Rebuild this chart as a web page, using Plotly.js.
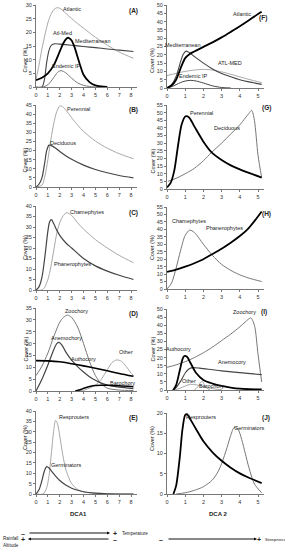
<!DOCTYPE html>
<html><head><meta charset="utf-8">
<script src="https://cdn.plot.ly/plotly-3.0.1.min.js"></script>
<style>html,body{margin:0;padding:0;background:#fff}#chart{width:285px;height:550px}</style>
</head><body><div id="chart"></div>
<script>
// ---- Panel A (DCA1, biogeography) ----
const A_atl_x = [0,0.25,0.5,0.75,1,1.25,1.5,1.75,2,2.5,3,3.5,4,5,6,7,8.2];
const A_atl_y = [2.7,8,14,19,23.5,26.5,28.3,29,28.8,27,25,23.2,21.5,18.2,15.3,12.8,10.5];
const A_am_x = [0,0.5,0.7,0.9,1.1,1.3,1.6,2,3,4,5,6,7,8.2];
const A_am_y = [0,0,2.5,9,13.5,15.3,15.8,15.7,15.3,14.8,14.4,13.9,13.5,13];
const A_med_x = [0,0.5,1,1.5,2,2.3,2.6,2.75,3,3.25,3.5,3.75,4,4.5,5,5.5,6];
const A_med_y = [2.5,3.4,5,8,13,16,17.8,18,17,14.5,11,7.5,4.5,1.8,0.6,0.2,0];
const A_end_x = [0.6,1,1.5,1.8,2.1,2.5,3,3.5,4,4.5,5];
const A_end_y = [0,0.8,3.5,5.3,6,5.2,3.2,1.5,0.6,0.2,0];
// ---- Panel F (DCA2, biogeography) ----
const F_atl_x = [0,0.25,0.5,0.75,1,1.25,1.5,2,2.5,3,3.5,4,4.5,5,5.2];
const F_atl_y = [0,1.5,5,12,18,20.5,22,24.8,27.5,30.5,33.8,37.2,40.8,44.6,46];
const F_med_x = [0,0.25,0.5,0.75,0.9,1.05,1.2,1.5,2,2.5,3,3.5,4,4.5,5.2];
const F_med_y = [0,2,7,16,20.5,22.2,21.5,19,15,11.5,8.8,6.8,5,3.7,2.2];
const F_am_x = [0,0.5,1,1.5,2,2.5,3,3.5,4,4.5,5.2];
const F_am_y = [7.5,8.8,10,10.8,11.2,10.8,9.7,8.3,6.7,5.2,3.2];
const F_end_x = [0,0.25,0.5,0.75,1,1.3,1.6,2,2.5,3,3.5];
const F_end_y = [0,0.8,2,3.3,4.2,4.6,4.2,3,1.3,0.3,0];
// ---- Panel B ----
const B_per_x = [0,0.5,0.75,1,1.25,1.5,1.75,2,2.25,2.5,3,3.5,4,5,6,7,8.2];
const B_per_y = [0,1,6,15,26,35,41.5,44.5,44,42.3,38,34,30.5,25.2,21.3,18.3,15.5];
const B_dec_x = [0,0.25,0.5,0.75,0.9,1.1,1.3,1.6,2,2.5,3,4,5,6,7,8.2];
const B_dec_y = [0,1.5,5,14,20,23,22.7,21.5,19.5,17.2,15.2,12,9.6,7.8,6.3,5];
// ---- Panel G ----
const G_per_x = [0,0.2,0.4,0.6,0.8,1,1.2,1.5,2,2.45,3,3.5,4,4.5,5.2];
const G_per_y = [1,4,12,28,42,47.5,47,41,31,24,19,15.5,12.8,10.5,7.5];
const G_dec_x = [0.05,0.5,1,1.5,2,2.45,3,3.5,4,4.3,4.5,4.65,4.8,5,5.2];
const G_dec_y = [5,7,10,13.5,18.5,24,30,36,42,46.5,49.5,51.5,45,22,7.5];
// ---- Panel C ----
const C_cha_x = [0,0.5,0.75,1,1.25,1.5,1.75,2,2.3,2.6,3,3.5,4,5,6,7,8.2];
const C_cha_y = [0,0,1.5,5,11,19,27,32,35.5,36.8,35.5,32,29,24,20,16.5,13];
const C_pha_x = [0,0.25,0.5,0.75,1,1.15,1.3,1.5,1.75,2,2.5,3,4,5,6,7,8.2];
const C_pha_y = [0,1.5,6,16,28,32.5,33.5,31.5,28.5,26,22.5,20,15,11.5,9,7,5];
// ---- Panel H ----
const H_cha_x = [0,0.25,0.5,0.75,1,1.25,1.5,2,2.5,3,3.5,4,4.5,5.2];
const H_cha_y = [0,4,14,26,36,39.5,38,30,22.5,16.5,12.5,9.5,7.3,5];
const H_pha_x = [0,0.5,1,1.5,2,2.5,3,3.5,4,4.5,5.2];
const H_pha_y = [11.5,13,15,17.3,20,23.5,27,31,35.5,41,52];
// ---- Panel D ----
const D_zoo_x = [0,0.5,1,1.5,2,2.3,2.65,3,3.5,4,4.5,5,5.5,6,7,8.2];
const D_zoo_y = [6.5,10.5,16,23,29,31,32,31,27,20,12.5,6.5,3,1.2,0.4,0.2];
const D_ane_x = [0,0.5,1,1.5,1.75,1.95,2.2,2.5,3,3.5,4,4.5,5,5.5,6,7,8.2];
const D_ane_y = [0,5,11,17.5,20,20.5,19.2,16.5,13,10.3,8,6,4.5,3.3,2.5,1.6,1];
const D_aut_x = [0,1,2,3,4,5,6,7,8.2];
const D_aut_y = [12.8,12.7,12.3,11.5,10.6,9.6,8.5,7.4,6.2];
const D_oth_x = [3.5,4,4.5,5,5.5,6,6.4,6.8,7.2,7.6,8,8.2];
const D_oth_y = [0,0.3,1.2,2.5,5,9,12,13.1,12.5,10.3,7.5,6.5];
const D_bar_x = [3.3,3.7,4.1,4.6,5,5.5,6,7,8.2];
const D_bar_y = [0,0.5,1.3,2,2.3,2.4,2.4,2.2,1.8];
// ---- Panel I ----
const I_zoo_x = [0,0.5,1,1.5,2,2.5,3,3.5,4,4.3,4.6,4.8,5,5.2];
const I_zoo_y = [14,15.5,17.5,20,23,26.5,30.5,34.5,39,42,44.5,40,22,5];
const I_aut_x = [0.35,0.5,0.7,0.85,0.95,1.1,1.3,1.6,2,2.5,3,3.5,4,4.5,5.2];
const I_aut_y = [0,3,12,19,21,20.5,16.5,10.5,6.2,4,2.5,1.5,0.8,0.5,0.3];
const I_ane_x = [0.3,0.5,0.75,1,1.2,1.4,1.8,2.5,3,4,5.2];
const I_ane_y = [0,1.5,5.5,10.5,13,13.8,13.5,12.5,11.8,10.7,9.5];
const I_oth_x = [0.4,0.7,1,1.3,1.6,2,2.5,3];
const I_oth_y = [0,1,2.5,3.5,3.2,2,0.8,0.2];
const I_bar_x = [1.5,1.7,1.85,1.95,2.1,2.35];
const I_bar_y = [0,2,4.8,5.2,2,0];
// ---- Panel E ----
const E_res_x = [0,0.6,0.9,1.1,1.3,1.5,1.65,1.8,2,2.25,2.5,2.75,3,3.5,4,5,6,8.2];
const E_res_y = [0,0,3,9,20,31,35.5,34,28,19,12,8,5,2.2,1,0.3,0.1,0];
const E_ger_x = [0,0.25,0.5,0.7,0.9,1.1,1.3,1.6,2,2.5,3,3.5,4,5,6,8.2];
const E_ger_y = [0,2,6.5,11,13.2,12.5,11,9,6.5,4.3,2.8,1.8,1.1,0.4,0.1,0];
// ---- Panel J ----
const J_res_x = [0.35,0.5,0.7,0.85,1,1.1,1.3,1.6,2,2.5,3,3.5,4,4.5,5.2];
const J_res_y = [0,2,9,16,19.5,19.7,18.3,16,13,10.3,8.2,6.5,5.1,4,2.7];
const J_ger_x = [0.5,1,1.5,2,2.5,2.8,3,3.3,3.5,3.7,3.9,4.1,4.3,4.5,4.8,5.2];
const J_ger_y = [0,0.3,0.9,1.8,3.5,5.5,7.5,11.5,14.5,16.5,16,13.5,10,6.5,2.5,0.3];

const LEFT_TICKS = [0,1,2,3,4,5,6,7,8];
const RIGHT_TICKS = [0,1,2,3,4,5];

const traces = [];
function sfx(n){return n===1?'':String(n);}
function add(n,x,y,color,width){
  traces.push({x:x,y:y,xaxis:'x'+sfx(n),yaxis:'y'+sfx(n),type:'scatter',mode:'lines',
    line:{color:color,width:width,shape:'spline',smoothing:0.8},hoverinfo:'skip'});
}
const LG='#a8a8a8', MG='#777', DG='#444', BK='#000';
// A
add(1,A_atl_x,A_atl_y,LG,1);
add(1,A_am_x,A_am_y,DG,1.1);
add(1,A_end_x,A_end_y,MG,1);
add(1,A_med_x,A_med_y,BK,1.8);
// F
add(2,F_am_x,F_am_y,LG,1);
add(2,F_end_x,F_end_y,DG,1);
add(2,F_med_x,F_med_y,DG,1.1);
add(2,F_atl_x,F_atl_y,BK,1.8);
// B
add(3,B_per_x,B_per_y,LG,1);
add(3,B_dec_x,B_dec_y,DG,1.2);
// G
add(4,G_dec_x,G_dec_y,MG,1);
add(4,G_per_x,G_per_y,BK,1.8);
// C
add(5,C_cha_x,C_cha_y,LG,1);
add(5,C_pha_x,C_pha_y,DG,1.2);
// H
add(6,H_cha_x,H_cha_y,MG,1);
add(6,H_pha_x,H_pha_y,BK,1.8);
// D
add(7,D_zoo_x,D_zoo_y,MG,1);
add(7,D_oth_x,D_oth_y,LG,1);
add(7,D_ane_x,D_ane_y,DG,1.2);
add(7,D_bar_x,D_bar_y,BK,1.5);
add(7,D_aut_x,D_aut_y,BK,1.6);
// I
add(8,I_zoo_x,I_zoo_y,MG,1);
add(8,I_oth_x,I_oth_y,LG,1);
add(8,I_bar_x,I_bar_y,LG,1);
add(8,I_ane_x,I_ane_y,DG,1.1);
add(8,I_aut_x,I_aut_y,BK,1.8);
// E
add(9,E_res_x,E_res_y,LG,1);
add(9,E_ger_x,E_ger_y,DG,1.2);
// J
add(10,J_ger_x,J_ger_y,MG,1);
add(10,J_res_x,J_res_y,BK,1.8);

const W=285,H=550;
function fy(p){return 1-p/H;}
function fx(p){return p/W;}
const layout = {width:W,height:H,margin:{l:0,r:0,t:0,b:0},showlegend:false,
  paper_bgcolor:'#fff',plot_bgcolor:'#fff',font:{family:'Arial, Liberation Sans, sans-serif',color:'#222'},
  annotations:[],shapes:[]};
// panel definitions: [n, side, y0px, ytopPx, ymaxRange]
const panels = [
  [1,'L',87,5,30],[2,'R',88,5,50],
  [3,'L',187,105,45],[4,'R',189,105,55],
  [5,'L',290,206,40],[6,'R',289,207,55],
  [7,'L',391,308,35],[8,'R',390,309,50],
  [9,'L',494,411,40],[10,'R',494,413,20]
];
panels.forEach(function(p){
  const n=p[0], s=sfx(n), left=p[1]==='L';
  layout['xaxis'+s] = {domain: left?[fx(36),fx(137)]:[fx(167),fx(263.5)],
    range: left?[0,8.5]:[0,5.3], tickvals: left?LEFT_TICKS:RIGHT_TICKS,
    anchor:'y'+s, showline:true, linecolor:'#777', linewidth:1, ticks:'outside', ticklen:2, tickcolor:'#777',
    showgrid:false, zeroline:false, tickfont:{size:5.5,color:'#333'}, fixedrange:true};
  layout['yaxis'+s] = {domain:[fy(p[2]),fy(p[3])], range:[0,p[4]], dtick:5,
    anchor:'x'+s, showline:true, linecolor:'#777', linewidth:1, ticks:'outside', ticklen:2, tickcolor:'#777',
    showgrid:false, zeroline:false, tickfont:{size:5.5,color:'#333'}, fixedrange:true};
  layout.annotations.push({xref:'paper',yref:'paper',x:fx(left?20:152),y:fy((p[2]+p[3])/2),
    text:'Cover (%)',textangle:-90,showarrow:false,font:{size:5.5,color:'#222'}});
});

function lab(txt,px,py,size,bold){
  layout.annotations.push({xref:'paper',yref:'paper',x:fx(px),y:fy(py),text:bold?'<b>'+txt+'</b>':txt,
    showarrow:false,xanchor:'center',yanchor:'middle',font:{size:size||5.5,color:'#222'}});
}
function labL(txt,px,py,size){
  layout.annotations.push({xref:'paper',yref:'paper',x:fx(px),y:fy(py),text:txt,
    showarrow:false,xanchor:'left',yanchor:'middle',font:{size:size||4.6,color:'#222'}});
}
// series labels
lab('Atlantic',72,9); lab('Atl-Med',62,33); lab('Mediterranean',92,41); lab('Endemic IP',66,66);
lab('Atlantic',242,14); lab('Mediterranean',182,45); lab('ATL-MED',230,63); lab('Endemic IP',193,76);
lab('Perennial',79,109); lab('Deciduous',63,143);
lab('Perennial',201,113); lab('Deciduous',227,128);
lab('Chamephytes',87,212); lab('Phanerophytes',72,264);
lab('Chamephytes',189,221); lab('Phanerophytes',224,228);
lab('Zoochory',76,311); lab('Anemochory',66,338); lab('Authocory',84,359); lab('Other',126,352); lab('Barochory',122,383);
lab('Zoochory',244,312); lab('Authocory',178,349); lab('Anemocory',232,362); lab('Other',189,381); lab('Barochory',211,386);
lab('Resprouters',74,417); lab('Germinators',66,465);
lab('Resprouters',201,417); lab('Germinators',249,428);
// panel letters
lab('(A)',133,11,6.5,true); lab('(F)',263,18,6.5,true);
lab('(B)',133,110,6.5,true); lab('(G)',266,108,6.5,true);
lab('(C)',133,213,6.5,true); lab('(H)',266,214,6.5,true);
lab('(D)',133,314,6.5,true); lab('(I)',264,312,6.5,true);
lab('(E)',133,418,6.5,true); lab('(J)',266,418,6.5,true);
// axis titles
lab('DCA1',78,514,6,true); lab('DCA 2',218,514,6,true);
// gradient arrows
function arrow(xHead,yPx,axPx){
  layout.annotations.push({xref:'paper',yref:'paper',x:fx(xHead),y:fy(yPx),ax:axPx,ay:0,text:'',
    showarrow:true,arrowhead:2,arrowsize:0.6,arrowwidth:1,arrowcolor:'#111'});
}
arrow(110,533,-82); arrow(28,539,82); arrow(257,539,-90);
lab('\u2013',23,533,7,true); lab('+',115,533,7,true);
labL('Temperature',120,533);
lab('+',23,539,7,true); lab('\u2013',115,539,7,true);
labL('Rainfall',1,538); labL('Altitude',1,545);
lab('\u2013',161,539,7,true); lab('+',259,539,7,true);
labL('Steepness',263,539,4.4);

Plotly.newPlot('chart',traces,layout,{staticPlot:true,displayModeBar:false});
</script></body></html>
